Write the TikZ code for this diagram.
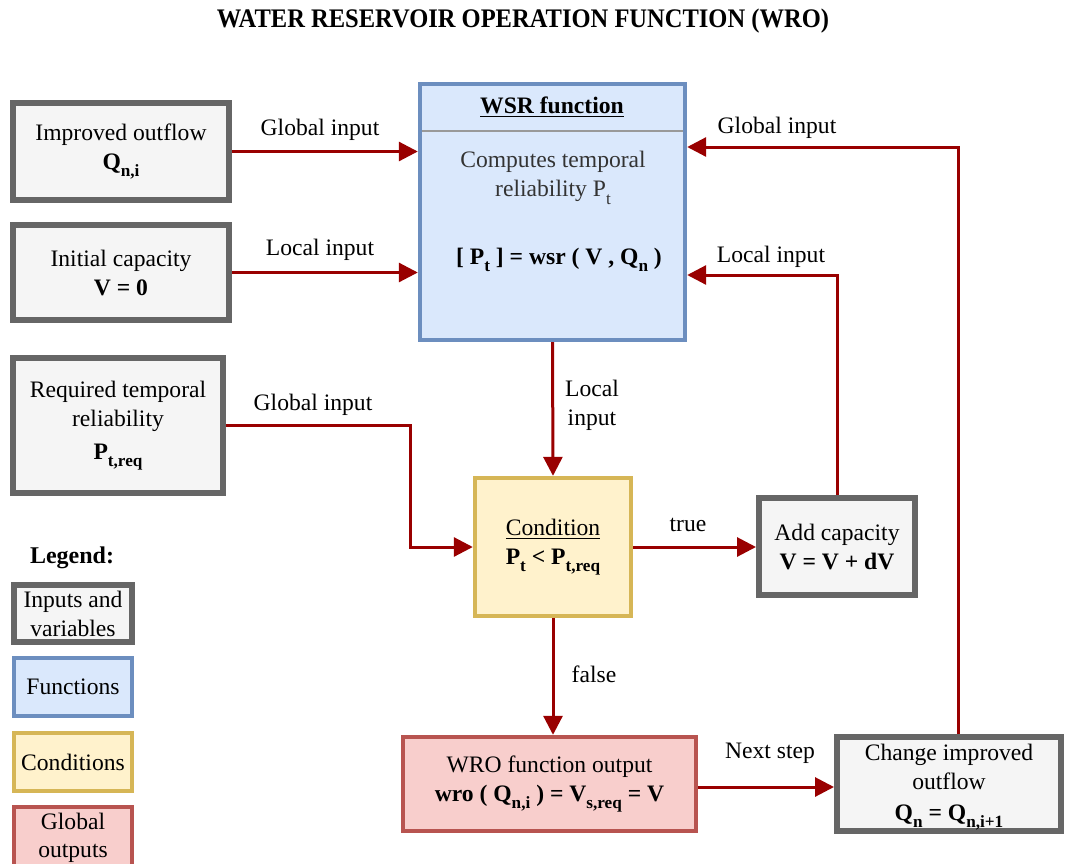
\documentclass[tikz,border=0pt]{standalone}
\usepackage{fontspec}
\setmainfont{Liberation Serif}
\usetikzlibrary{arrows.meta}
\pgfdeclarelayer{edgelayer}
\pgfdeclarelayer{nodelayer}
\pgfsetlayers{edgelayer,nodelayer,main}
\definecolor{flowred}{HTML}{990000}
\definecolor{inborder}{HTML}{666666}
\definecolor{infill}{HTML}{F5F5F5}
\definecolor{funborder}{HTML}{6C8EBF}
\definecolor{funfill}{HTML}{DAE8FC}
\definecolor{condborder}{HTML}{D6B656}
\definecolor{condfill}{HTML}{FFF2CC}
\definecolor{outborder}{HTML}{B85450}
\definecolor{outfill}{HTML}{F8CECC}
\tikzstyle{box}=[rectangle, align=center, inner sep=0pt, font=\fontsize{11.8}{14.5}\selectfont]
\tikzstyle{inbox}=[box, draw=inborder, fill=infill, line width=3pt]
\tikzstyle{funbox}=[box, draw=funborder, fill=funfill, line width=2.2pt]
\tikzstyle{condbox}=[box, draw=condborder, fill=condfill, line width=2.2pt]
\tikzstyle{outbox}=[box, draw=outborder, fill=outfill, line width=2.2pt]
\tikzstyle{flow}=[draw=flowred, line width=1.5pt, -{Triangle[length=9.5pt,width=9.5pt]}]
\tikzstyle{flowtext}=[inner sep=0pt, align=center, font=\fontsize{11.8}{14.5}\selectfont]
% lowered subscript, a bit larger than \textsubscript
\newcommand{\lo}[1]{\raisebox{-0.32em}{\fontsize{8.6}{8.6}\selectfont #1}}

\begin{document}
\begin{tikzpicture}[x=0.5pt, y=-0.5pt]
	\useasboundingbox (0,0) rectangle (1071,863);
	\begin{pgfonlayer}{nodelayer}
		\node [flowtext, font=\fontsize{13.4}{15}\selectfont\bfseries, xscale=0.915] (0) at (523,21) {WATER RESERVOIR OPERATION FUNCTION (WRO)};
		% inputs on the left
		\node [style=inbox, minimum width=108pt, minimum height=48.5pt] (1) at (121,151.5) {Improved outflow\\\textbf{Q\lo{n,i}}};
		\node [style=inbox, minimum width=108pt, minimum height=47.5pt] (2) at (121,272.5) {Initial capacity\\\textbf{V = 0}};
		\node [style=inbox, minimum width=105pt, minimum height=67.5pt] (3) at (118,425.5) {Required temporal\\reliability\\[2pt]\textbf{P\lo{t,req}}};
		% wsr function
		\node [style=funbox, minimum width=132.5pt, minimum height=128pt] (4) at (552.5,212) {};
		\node [flowtext] (4a) at (552,107) {\textbf{\underline{WSR function}}};
		\draw [draw=black!40, line width=0.8pt] ([xshift=2.2pt,yshift=-24.5pt]4.north west) -- ([xshift=-2.2pt,yshift=-24.5pt]4.north east);
		\node [flowtext, text=black!80] (4b) at (553,178) {Computes temporal\\reliability P\lo{t}};
		\node [flowtext] (4c) at (559,260) {\textbf{[ P\lo{t} ] = wsr ( V , Q\lo{n} )}};
		% loop
		\node [style=condbox, minimum width=78pt, minimum height=69pt] (5) at (553,547) {\underline{Condition}\\\textbf{P\lo{t} < P\lo{t,req}}};
		\node [style=inbox, minimum width=78pt, minimum height=48.5pt] (6) at (837,546.5) {Add capacity\\\textbf{V = V + dV}};
		\node [style=outbox, minimum width=146.5pt, minimum height=47pt] (7) at (549.5,784) {WRO function output\\\textbf{wro ( Q\lo{n,i} ) = V\lo{s,req} = V}};
		\node [style=inbox, minimum width=112pt, minimum height=47pt] (8) at (949,784) {};
		\node [flowtext] (8a) at (949,787) {Change improved\\outflow\\[1pt]\textbf{Q\lo{n} = Q\lo{n,i+1}}};
		% legend
		\node [flowtext, font=\fontsize{12}{14}\selectfont\bfseries] (9) at (72,558) {Legend:};
		\node [style=inbox, minimum width=59pt, minimum height=28.5pt] (10) at (73,613.5) {Inputs and\\variables};
		\node [style=funbox, minimum width=59pt, minimum height=29pt] (11) at (73,687) {Functions};
		\node [style=condbox, minimum width=59pt, minimum height=29pt] (12) at (73,762) {Conditions};
		\node [style=outbox, minimum width=59pt, minimum height=36.5pt] (13) at (73,843.5) {};
		\node [flowtext, font=\fontsize{11.8}{13.8}\selectfont] (13a) at (73,838) {Global\\outputs};
		% connector labels
		\node [flowtext] (14) at (320,130) {Global input};
		\node [flowtext] (15) at (320,250) {Local input};
		\node [flowtext] (16) at (313,405) {Global input};
		\node [flowtext] (17) at (592,405) {Local\\input};
		\node [flowtext] (18) at (688,525) {true};
		\node [flowtext] (19) at (771,257) {Local input};
		\node [flowtext] (20) at (594,674) {false};
		\node [flowtext] (21) at (770,753) {Next step};
		\node [flowtext] (22) at (777,128) {Global input};
	\end{pgfonlayer}
	\begin{pgfonlayer}{edgelayer}
		\coordinate (c1) at (410,428);
		\coordinate (c2) at (837,275);
		\coordinate (c3) at (958,147);
		\coordinate (c4) at (698,787);
		\draw [style=flow] (1.east) -- (1.east -| 4.west);
		\draw [style=flow] (2.east) -- (2.east -| 4.west);
		\draw [style=flow] (3.east) -- (3.east -| c1) |- (5.west);
		\draw [style=flow] (4.south) -- (5.north);
		\draw [style=flow] (5.east) -- (5.east -| 6.west);
		\draw [style=flow] (6.north) -- (c2) -- (c2 -| 4.east);
		\draw [style=flow] (5.south) -- (5.south |- 7.north);
		\draw [style=flow] (c4 -| 7.east) -- (c4 -| 8.west);
		\draw [style=flow] (c3 |- 8.north) -- (c3) -- (c3 -| 4.east);
	\end{pgfonlayer}
\end{tikzpicture}
\end{document}
